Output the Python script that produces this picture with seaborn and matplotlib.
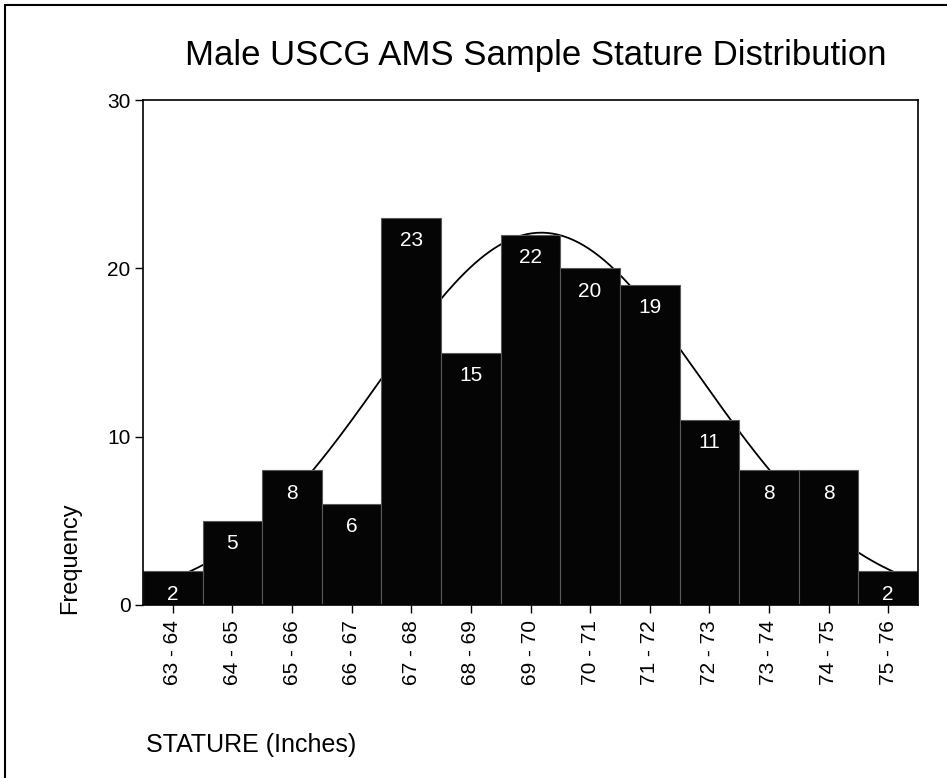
import matplotlib
matplotlib.use("Agg")
import matplotlib.pyplot as plt
import numpy as np
import pandas as pd
import seaborn as sns
from matplotlib.patches import Rectangle

# Histogram bins (inches) and counts
bins = ["63 - 64", "64 - 65", "65 - 66", "66 - 67", "67 - 68", "68 - 69", "69 - 70",
        "70 - 71", "71 - 72", "72 - 73", "73 - 74", "74 - 75", "75 - 76"]
bin_mids = [63.5, 64.5, 65.5, 66.5, 67.5, 68.5, 69.5, 70.5, 71.5, 72.5, 73.5, 74.5, 75.5]
counts = [2, 5, 8, 6, 23, 15, 22, 20, 19, 11, 8, 8, 2]
y_ticks = [0, 10, 20, 30]

sns.set_style("white")
plt.rcParams["font.family"] = ["Liberation Sans", "DejaVu Sans"]
plt.rcParams["text.color"] = "black"
plt.rcParams["xtick.color"] = "black"
plt.rcParams["ytick.color"] = "black"

df = pd.DataFrame({"bin": bins, "count": counts, "mid": bin_mids})

fig = plt.figure(figsize=(9.47, 7.78), dpi=100)
ax = fig.add_axes([143 / 947, 1 - 605 / 778, (918 - 143) / 947, (605 - 100) / 778])

sns.barplot(data=df, x="bin", y="count", color="#050505", width=1.0,
            edgecolor="#5a5a5a", linewidth=0.8, saturation=1, ax=ax, zorder=2)

# Normal curve fitted to the binned data (drawn behind the bars like the original)
n = sum(counts)
mu = np.average(bin_mids, weights=counts)
sd = np.sqrt(np.average((np.array(bin_mids) - mu) ** 2, weights=counts))
xs = np.linspace(bin_mids[0] - 0.5, bin_mids[-1] + 0.5, 300)
dens = n / (sd * np.sqrt(2 * np.pi)) * np.exp(-0.5 * ((xs - mu) / sd) ** 2)
ax.plot(xs - bin_mids[0], dens, color="black", lw=1.3, zorder=1)

for i, c in enumerate(counts):
    ax.text(i, c - 1.35, str(c), color="white", ha="center", va="center",
            fontsize=15, zorder=3)

ax.set_xlim(-0.5, len(bins) - 0.5)
ax.set_ylim(0, 30)
ax.set_yticks(y_ticks)
ax.set_xlabel("")
ax.set_ylabel("")
ax.tick_params(axis="both", direction="out", length=6, width=1, color="black",
               labelcolor="black", labelsize=15, pad=3, left=True, bottom=True)
ax.tick_params(axis="x", labelrotation=90, pad=5)
for s in ax.spines.values():
    s.set_color("black")
    s.set_linewidth(1.2)

fig.text(536 / 947, 1 - 55 / 778, "Male USCG AMS Sample Stature Distribution",
         ha="center", va="center", fontsize=25, color="black")
fig.text(70 / 947, 1 - 558 / 778, "Frequency", rotation=90,
         ha="center", va="center", fontsize=17, color="black")
fig.text(146 / 947, 1 - 745 / 778, "STATURE (Inches)", ha="left", va="center",
         fontsize=18, color="black")

# Outer frame around the chart
fig.patches.append(Rectangle((5 / 947, -0.05), 1.2, 1 - 5 / 778 + 0.05,
                             transform=fig.transFigure, fill=False,
                             edgecolor="black", lw=1.5))

fig.savefig("out.png", dpi=100)
